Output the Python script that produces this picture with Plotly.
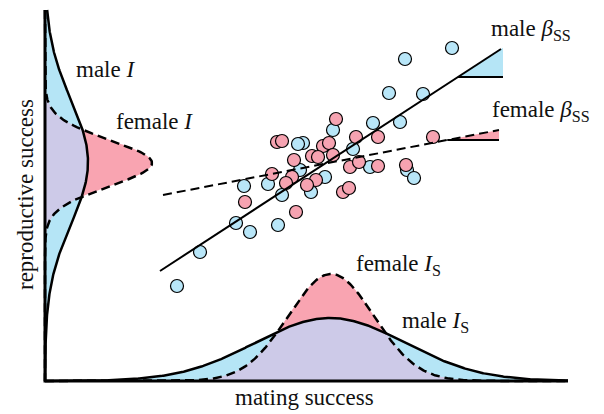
import numpy as np
import plotly.graph_objects as go

# ---- data (chart units: x to the right, y downward like the picture) ----
male_pts_x = [452, 405, 389, 423, 373, 400, 333, 303, 298, 353, 300, 370, 407, 414,
              325, 244, 268, 311, 282, 236, 250, 278, 200, 177]
male_pts_y = [48, 59, 93, 94, 123, 122, 130, 143, 144, 149, 170, 167, 170, 178,
              177, 186, 184, 192, 195, 223, 232, 225, 252, 286]
female_pts_x = [336, 277, 282, 323, 329, 356, 378, 433, 294, 312, 318, 333, 350, 359,
                378, 406, 272, 292, 286, 316, 307, 343, 349, 245, 296]
female_pts_y = [119, 142, 141, 146, 143, 137, 137, 137, 160, 156, 157, 155, 167, 162,
                166, 165, 174, 177, 183, 180, 185, 192, 188, 202, 212]

# regression lines: [x_start, x_end], intercept, slope
male_beta_x = [160, 501]
male_beta_ab = [271 + 160 * 0.651, -0.651]
female_beta_x = [163, 499]
female_beta_ab = [195 + 163 * 0.1935, -0.1935]
male_ref_y = 77
male_ref_xend = 503
female_ref_y = 140
female_ref_xend = 499

# distributions: [mean, sd, amplitude]
male_I = [162, 62, 43]
female_I = [163, 23, 107]
male_IS = [330, 75, 63]
female_IS = [331, 43, 107]

axis_x0 = 45
axis_y0 = 381
axis_ytop = 10
axis_xend = 568

BLUE = "#b5e5f6"
PINK = "#f9a4b1"
LAV = "#cdcae8"
PT_BLUE = "#b8e6f8"
PT_PINK = "#f6a3b1"

def g(t, p):
    return p[2] * np.exp(-(t - p[0]) ** 2 / (2 * p[1] ** 2))

fig = go.Figure()

# ---- left (vertical) distributions ----
yy = np.linspace(axis_ytop, axis_y0, 400)
m = g(yy, male_I)
f = g(yy, female_I)
mn = np.minimum(m, f)
for prof, col in [(m, BLUE), (f, PINK), (mn, LAV)]:
    fig.add_trace(go.Scatter(
        x=np.concatenate([axis_x0 + prof, np.full(len(yy), axis_x0)]),
        y=np.concatenate([yy, yy[::-1]]),
        fill="toself", fillcolor=col, mode="none", hoverinfo="skip"))
fig.add_trace(go.Scatter(x=axis_x0 + f, y=yy, mode="lines",
                         line=dict(color="black", width=2.5, dash="9px,5px")))
fig.add_trace(go.Scatter(x=axis_x0 + m, y=yy, mode="lines",
                         line=dict(color="black", width=2.5)))

# ---- bottom (horizontal) distributions ----
xx = np.linspace(axis_x0, axis_xend, 500)
m2 = g(xx, male_IS)
f2 = g(xx, female_IS)
mn2 = np.minimum(m2, f2)
for prof, col in [(m2, BLUE), (f2, PINK), (mn2, LAV)]:
    fig.add_trace(go.Scatter(
        x=np.concatenate([xx, xx[::-1]]),
        y=np.concatenate([axis_y0 - prof, np.full(len(xx), axis_y0)]),
        fill="toself", fillcolor=col, mode="none", hoverinfo="skip"))
fig.add_trace(go.Scatter(x=xx, y=axis_y0 - f2, mode="lines",
                         line=dict(color="black", width=2.5, dash="9px,5px")))
fig.add_trace(go.Scatter(x=xx, y=axis_y0 - m2, mode="lines",
                         line=dict(color="black", width=2.5)))

# ---- axes lines ----
fig.add_trace(go.Scatter(x=[axis_x0, axis_x0, axis_xend], y=[axis_ytop, axis_y0, axis_y0],
                         mode="lines", line=dict(color="black", width=3)))

# ---- wedges ----
def wedge(ab, yref, xend):
    a, b = ab
    xi = (yref - a) / b
    return [xi, xend, xend, xi], [yref, a + b * xend, yref, yref]

wx, wy = wedge(male_beta_ab, male_ref_y, male_ref_xend)
fig.add_trace(go.Scatter(x=wx, y=wy, fill="toself", fillcolor=BLUE, mode="none"))
wx, wy = wedge(female_beta_ab, female_ref_y, female_ref_xend)
fig.add_trace(go.Scatter(x=wx, y=wy, fill="toself", fillcolor=PINK, mode="none"))
for ab, yref, xend in [(male_beta_ab, male_ref_y, male_ref_xend),
                       (female_beta_ab, female_ref_y, female_ref_xend)]:
    xi = (yref - ab[0]) / ab[1]
    fig.add_trace(go.Scatter(x=[xi, xend], y=[yref, yref], mode="lines",
                             line=dict(color="black", width=1.8)))

# ---- points ----
fig.add_trace(go.Scatter(x=male_pts_x, y=male_pts_y, mode="markers",
                         marker=dict(size=13, color=PT_BLUE, line=dict(color="black", width=1.2))))
fig.add_trace(go.Scatter(x=female_pts_x, y=female_pts_y, mode="markers",
                         marker=dict(size=13, color=PT_PINK, line=dict(color="black", width=1.2))))

# ---- regression lines ----
mx = np.array(male_beta_x)
fig.add_trace(go.Scatter(x=mx, y=male_beta_ab[0] + male_beta_ab[1] * mx, mode="lines",
                         line=dict(color="black", width=2)))
fx = np.array(female_beta_x)
fig.add_trace(go.Scatter(x=fx, y=female_beta_ab[0] + female_beta_ab[1] * fx, mode="lines",
                         line=dict(color="black", width=2, dash="9px,5px")))

# ---- labels ----
FONT = dict(family="Liberation Serif, Times New Roman, serif", size=23, color="#111")
labels = [
    ("male <i>I</i>", 105, 69, 0),
    ("female <i>I</i>", 154, 121, 0),
    ("female <i>I</i><sub>S</sub>", 398, 265, 0),
    ("male <i>I</i><sub>S</sub>", 435, 322, 0),
    ("mating success", 304, 397, 0),
    ("reproductive success", 25, 195, -90),
    ("male <i>β</i><sub>SS</sub>", 531, 30, 0),
    ("female <i>β</i><sub>SS</sub>", 541, 111, 0),
]
for txt, x, y, ang in labels:
    fig.add_annotation(text=txt, x=x, y=y, xref="x", yref="y", showarrow=False,
                       textangle=ang, font=FONT, xanchor="center", yanchor="middle")

fig.update_layout(
    width=604, height=414, margin=dict(l=0, r=0, t=0, b=0),
    paper_bgcolor="white", plot_bgcolor="white", showlegend=False,
    xaxis=dict(range=[0, 604], visible=False, fixedrange=True),
    yaxis=dict(range=[414, 0], visible=False, fixedrange=True),
)
fig.write_html("out.html", config={"displayModeBar": False},
               post_script="document.body.style.margin='0';document.body.style.overflow='hidden';")
